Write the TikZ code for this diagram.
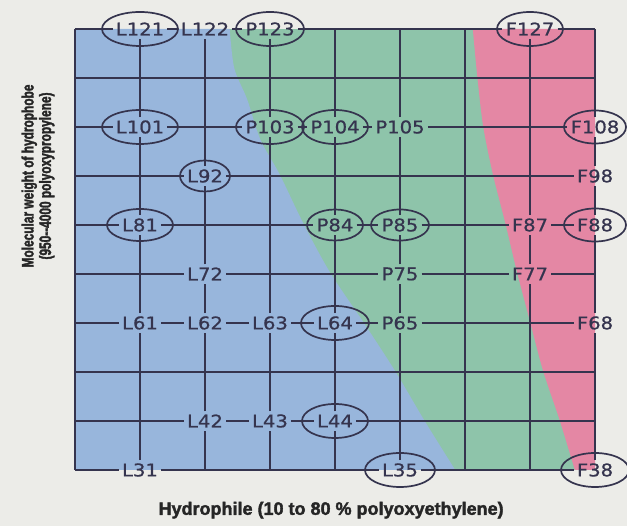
\documentclass[tikz,border=0pt]{standalone}
\usepackage{fontspec}
\setmainfont{Liberation Sans}
\newfontfamily\gridfont[FakeStretch=1.12, FakeBold=0.7]{DejaVu Sans}
\newfontfamily\xtitlefont[FakeBold=2]{Liberation Sans Bold}
\newfontfamily\ytitlefont[FakeStretch=0.72, FakeBold=2]{Liberation Sans Bold}
\usepackage{tikz}

\definecolor{paper}{HTML}{ECECE8}
\definecolor{lblue}{HTML}{98B6DC}
\definecolor{pgreen}{HTML}{8EC4AA}
\definecolor{fpink}{HTML}{E487A4}
\definecolor{ink}{HTML}{35344E}

\begin{document}
\begin{tikzpicture}[x=65pt, y=49pt,
	gridline/.style={ink, line width=2.4pt},
	ring/.style={ink, line width=1.7pt},
	lbl/.style={inner sep=3pt, text=ink, font=\gridfont\fontsize{17.5}{18}\selectfont},
	xtitle/.style={text=black!85, font=\xtitlefont\fontsize{18}{20}\selectfont},
	ytitle/.style={text=black!85, align=center, font=\ytitlefont\fontsize{16.5}{17.5}\selectfont}]
	% Paper and the three regions:
	\fill[paper] (-75pt,-56pt) rectangle (552pt,470pt);
	\useasboundingbox (-75pt,-56pt) rectangle (552pt,470pt);
	\fill[pgreen] (0,0) rectangle (8,9);
	\fill[lblue] (0,0) -- (0,9) -- plot[smooth] coordinates {(2.38,9) (2.45,8.2) (2.65,7.56) (2.85,6.75) (3.15,6.03) (3.51,5.04) (3.92,4.04) (4.43,3.03) (4.92,2.03) (5.38,1.0) (5.85,0)} -- cycle;
	\fill[fpink] (8,0) -- (8,9) -- plot[smooth] coordinates {(6.12,9) (6.19,8.02) (6.28,7.01) (6.43,6.03) (6.62,5.04) (6.8,4.04) (7.0,3.03) (7.2,2.03) (7.46,1.0) (7.69,0)} -- cycle;

	% Ends of the grid lines on the border:
	\foreach \c in {0,...,8} {\coordinate (S\c) at (\c,0); \coordinate (N\c) at (\c,9);}
	\foreach \r in {3,...,12} {\coordinate (W\r) at (0,\r-3); \coordinate (E\r) at (8,\r-3);}

	% Grades:
	\node[lbl] (L121) at (1,9) {L121};
	\node[lbl] (L122) at (2,9) {L122};
	\node[lbl] (P123) at (3,9) {P123};
	\node[lbl] (F127) at (7,9) {F127};
	\node[lbl] (L101) at (1,7) {L101};
	\node[lbl] (P103) at (3,7) {P103};
	\node[lbl] (P104) at (4,7) {P104};
	\node[lbl] (P105) at (5,7) {P105};
	\node[lbl] (F108) at (8,7) {F108};
	\node[lbl] (L92) at (2,6) {L92};
	\node[lbl] (F98) at (8,6) {F98};
	\node[lbl] (L81) at (1,5) {L81};
	\node[lbl] (P84) at (4,5) {P84};
	\node[lbl] (P85) at (5,5) {P85};
	\node[lbl] (F87) at (7,5) {F87};
	\node[lbl] (F88) at (8,5) {F88};
	\node[lbl] (L72) at (2,4) {L72};
	\node[lbl] (P75) at (5,4) {P75};
	\node[lbl] (F77) at (7,4) {F77};
	\node[lbl] (L61) at (1,3) {L61};
	\node[lbl] (L62) at (2,3) {L62};
	\node[lbl] (L63) at (3,3) {L63};
	\node[lbl] (L64) at (4,3) {L64};
	\node[lbl] (P65) at (5,3) {P65};
	\node[lbl] (F68) at (8,3) {F68};
	\node[lbl] (L42) at (2,1) {L42};
	\node[lbl] (L43) at (3,1) {L43};
	\node[lbl] (L44) at (4,1) {L44};
	\node[lbl] (L31) at (1,0) {L31};
	\node[lbl] (L35) at (5,0) {L35};
	\node[lbl] (F38) at (8,0) {F38};

	% Rows:
	\draw[gridline] (N0) -- (L121) -- (L122) -- (P123) -- (F127) -- (N8);
	\draw[gridline] (W11) -- (E11);
	\draw[gridline] (W10) -- (L101) -- (P103) -- (P104) -- (P105) -- (F108);
	\draw[gridline] (W9) -- (L92) -- (F98);
	\draw[gridline] (W8) -- (L81) -- (P84) -- (P85) -- (F87) -- (F88);
	\draw[gridline] (W7) -- (L72) -- (P75) -- (F77) -- (E7);
	\draw[gridline] (W6) -- (L61) -- (L62) -- (L63) -- (L64) -- (P65) -- (F68);
	\draw[gridline] (W5) -- (E5);
	\draw[gridline] (W4) -- (L42) -- (L43) -- (L44) -- (E4);
	\draw[gridline] (S0) -- (L31) -- (L35) -- (F38);
	% Columns:
	\draw[gridline] (S0) -- (N0);
	\draw[gridline] (L31) -- (L61) -- (L81) -- (L101) -- (L121);
	\draw[gridline] (S2) -- (L42) -- (L62) -- (L72) -- (L92) -- (L122);
	\draw[gridline] (S3) -- (L43) -- (L63) -- (P103) -- (P123);
	\draw[gridline] (S4) -- (L44) -- (L64) -- (P84) -- (P104) -- (N4);
	\draw[gridline] (L35) -- (P65) -- (P75) -- (P85) -- (P105) -- (N5);
	\draw[gridline] (S6) -- (N6);
	\draw[gridline] (S7) -- (F77) -- (F87) -- (F127);
	\draw[gridline] (F38) -- (F68) -- (F88) -- (F98) -- (F108) -- (N8);

	% Rings:
	\draw[ring] (L121) ellipse [x radius=38pt, y radius=17pt];
	\draw[ring] (P123) ellipse [x radius=34pt, y radius=17pt];
	\draw[ring] (F127) ellipse [x radius=33pt, y radius=17pt];
	\draw[ring] (L101) ellipse [x radius=38pt, y radius=17pt];
	\draw[ring] (P103) ellipse [x radius=34pt, y radius=17pt];
	\draw[ring] (P104) ellipse [x radius=33pt, y radius=17pt];
	\draw[ring] (F108) ellipse [x radius=31pt, y radius=16.5pt];
	\draw[ring] (L92) ellipse [x radius=25pt, y radius=15.5pt];
	\draw[ring] (L81) ellipse [x radius=33pt, y radius=16pt];
	\draw[ring] (P84) ellipse [x radius=28pt, y radius=15.5pt];
	\draw[ring] (P85) ellipse [x radius=29pt, y radius=15.5pt];
	\draw[ring] (F88) ellipse [x radius=31pt, y radius=16.5pt];
	\draw[ring] (L64) ellipse [x radius=34pt, y radius=17pt];
	\draw[ring] (L44) ellipse [x radius=33pt, y radius=17pt];
	\draw[ring] (L35) ellipse [x radius=35pt, y radius=17pt];
	\draw[ring] (F38) ellipse [x radius=34pt, y radius=17pt];

	% Axis titles:
	\node[xtitle] (hydrophile) at (3.94,-0.82) {Hydrophile (10 to 80 \% polyoxyethylene)};
	\node[ytitle, rotate=90] (hydrophobe) at (-0.57,6.0) {Molecular weight of hydrophobe\\(950--4000 polyoxypropylene)};
\end{tikzpicture}
\end{document}
